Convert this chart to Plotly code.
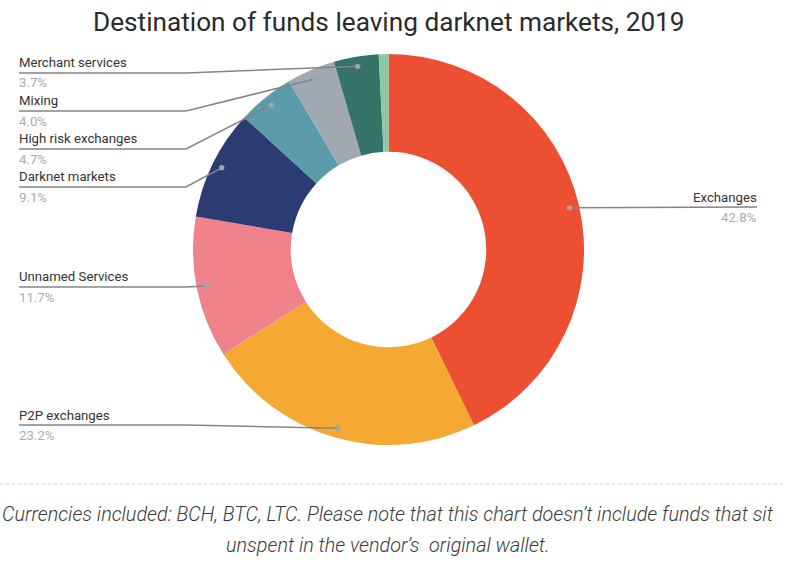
import math
import plotly.graph_objects as go

W, H = 792, 563
categories = ["Exchanges", "P2P exchanges", "Unnamed Services", "Darknet markets",
              "High risk exchanges", "Mixing", "Merchant services", "Other"]
values = [42.8, 23.2, 11.7, 9.1, 4.7, 4.0, 3.7, 0.8]
colors = ["#EC4F32", "#F5A932", "#EF828B", "#2B3B73", "#5C9BAA", "#A0A9B2", "#367368", "#8AC9A6"]
label_line_y = [207, 425, 287, 187, 149, 111, 73]

CX, CY, R = 388.5, 249.5, 195.5
LEFT, RIGHT, ELBOW = 19, 757, 186
DOT_R = 0.95 * R
TXT = "Roboto, sans-serif"


def px(x):
    return x / W


def py(y):
    return 1 - y / H


fig = go.Figure(go.Pie(
    labels=categories, values=values, sort=False, direction="clockwise", rotation=0,
    hole=0.5, marker=dict(colors=colors, line=dict(width=0)), textinfo="none",
    hoverinfo="label+percent",
    domain=dict(x=[px(CX - R), px(CX + R)], y=[py(CY + R), py(CY - R)]),
))

shapes, annos = [], []
line_style = dict(color="#858585", width=1.5)


def text(x, y, s, size, color, anchor="left", **font):
    annos.append(dict(x=px(x), y=py(y), xref="paper", yref="paper", text=s, showarrow=False,
                      xanchor=anchor, yanchor="middle", align=anchor,
                      xshift=-2 if anchor == "left" else (2 if anchor == "right" else 0),
                      font=dict(family=TXT, size=size, color=color, **font)))


cum = 0
for name, v, ly in zip(categories, values, label_line_y):
    a = 2 * math.pi * (cum + v / 2) / sum(values)
    cum += v
    dx, dy = CX + DOT_R * math.sin(a), CY - DOT_R * math.cos(a)
    right = dx > CX
    if right:
        path = f"M {px(dx)} {py(dy)} L {px(RIGHT)} {py(ly)}"
        text(RIGHT, ly - 10, name, 13.2, "#333333", "right")
        text(RIGHT, ly + 10, f"{v}%", 13.2, "#ABABAB", "right")
    else:
        path = f"M {px(LEFT)} {py(ly)} L {px(ELBOW)} {py(ly)} L {px(dx)} {py(dy)}"
        text(LEFT, ly - 10, name, 13.2, "#333333")
        text(LEFT, ly + 10, f"{v}%", 13.2, "#ABABAB")
    shapes.append(dict(type="path", path=path, xref="paper", yref="paper", line=line_style, layer="above"))
    shapes.append(dict(type="circle", xref="paper", yref="paper", layer="above",
                       x0=px(dx - 2.7), x1=px(dx + 2.7), y0=py(dy + 2.7), y1=py(dy - 2.7),
                       fillcolor="#A3A3A3", line=dict(width=0)))
    if name == "Merchant services":
        break

text(389, 22, "Destination of funds leaving darknet markets, 2019", 26.2, "#2B2B2B", "center")
shapes.append(dict(type="line", xref="paper", yref="paper", x0=0, x1=px(783), y0=py(484), y1=py(484),
                   line=dict(color="#C8C8C8", width=1, dash="dot")))
text(388, 514, "Currencies included: BCH, BTC, LTC. Please note that this chart doesn’t include funds that sit",
     19.8, "#3A3A3A", "center", style="italic", weight=300)
text(388, 545, "unspent in the vendor’s  original wallet.", 19.8, "#3A3A3A", "center", style="italic", weight=300)

fig.update_layout(width=W, height=H, margin=dict(l=0, r=0, t=0, b=0), showlegend=False,
                  paper_bgcolor="white", plot_bgcolor="white", shapes=shapes, annotations=annos)
fig.write_html("out.html", config=dict(displayModeBar=False),
               post_script="document.body.style.margin='0';document.body.style.overflow='hidden';")
